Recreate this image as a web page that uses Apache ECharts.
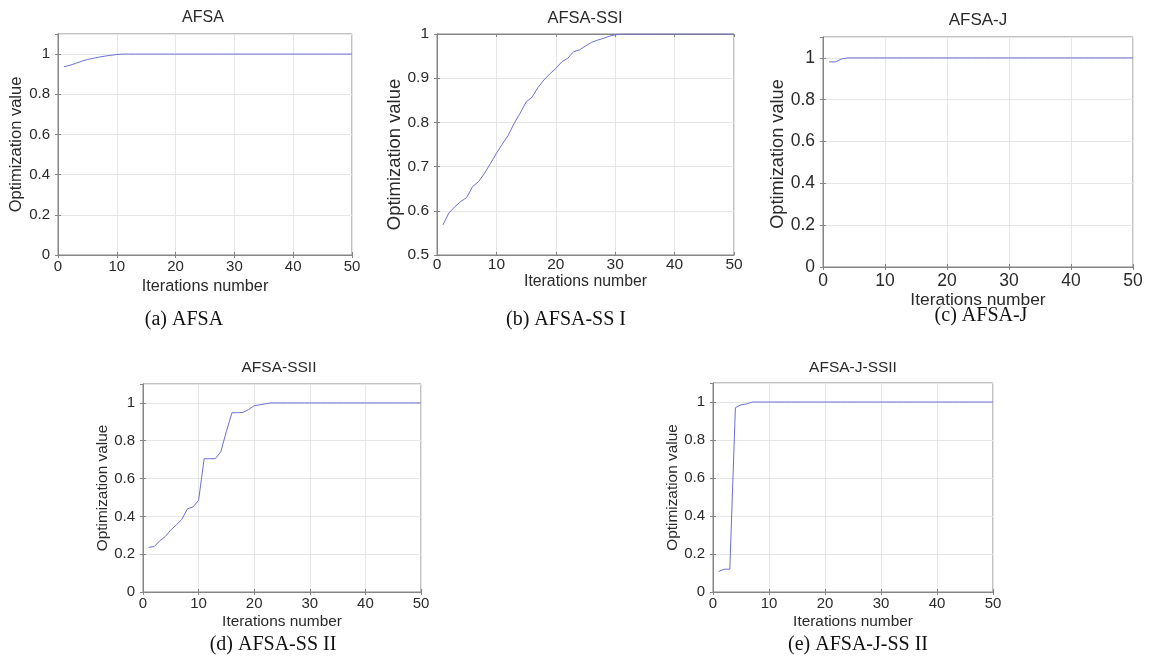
<!DOCTYPE html>
<html>
<head>
<meta charset="utf-8">
<script src="https://cdn.jsdelivr.net/npm/echarts@6/dist/echarts.min.js"></script>
<style>
html,body{margin:0;padding:0;background:#fff;}
#chart{width:1155px;height:660px;}
</style>
</head>
<body>
<div id="chart"></div>
<script>
// ---- data ----
const iterations = [1,2,3,4,5,6,7,8,9,10,11,12,13,14,15,16,17,18,19,20,21,22,23,24,25,26,27,28,29,30,31,32,33,34,35,36,37,38,39,40,41,42,43,44,45,46,47,48,49,50];

const afsa = [0.937,0.944,0.954,0.964,0.973,0.979,0.985,0.990,0.994,0.998,
  1,1,1,1,1,1,1,1,1,1, 1,1,1,1,1,1,1,1,1,1, 1,1,1,1,1,1,1,1,1,1, 1,1,1,1,1,1,1,1,1,1];

const afsaSSI = [0.568,0.595,0.609,0.621,0.630,0.655,0.666,0.685,0.707,0.730,
  0.751,0.771,0.798,0.821,0.846,0.857,0.879,0.896,0.910,0.922,
  0.937,0.945,0.960,0.964,0.973,0.981,0.986,0.990,0.995,0.998,
  1,1,1,1,1,1,1,1,1,1, 1,1,1,1,1,1,1,1,1,1];

const afsaJ = [0.981,0.981,0.995,1,1,1,1,1,1,1,
  1,1,1,1,1,1,1,1,1,1, 1,1,1,1,1,1,1,1,1,1, 1,1,1,1,1,1,1,1,1,1, 1,1,1,1,1,1,1,1,1,1];

const afsaSSII = [0.236,0.240,0.270,0.293,0.328,0.355,0.385,0.440,0.450,0.485,
  0.705,0.705,0.705,0.742,0.850,0.948,0.948,0.950,0.965,0.985,
  0.990,0.995,1,1,1,1,1,1,1,1,
  1,1,1,1,1,1,1,1,1,1, 1,1,1,1,1,1,1,1,1,1];

const afsaJSSII = [0.108,0.120,0.120,0.970,0.985,0.990,1,1,1,1,
  1,1,1,1,1,1,1,1,1,1, 1,1,1,1,1,1,1,1,1,1, 1,1,1,1,1,1,1,1,1,1, 1,1,1,1,1,1,1,1,1,1];

const plotTitles = ['AFSA','AFSA-SSI','AFSA-J','AFSA-SSII','AFSA-J-SSII'];
const captions = ['(a) AFSA','(b) AFSA-SS I','(c) AFSA-J','(d) AFSA-SS II','(e) AFSA-J-SS II'];
const seriesValues = [afsa, afsaSSI, afsaJ, afsaSSII, afsaJSSII];
const xTicks = {min:0, max:50, interval:10};
const yRanges = [[0,1.1,0.2],[0.5,1,0.1],[0,1.1,0.2],[0,1.1,0.2],[0,1.1,0.2]];
const xName = 'Iterations number';
const yName = 'Optimization value';

// ---- layout (positions/styles) ----
const panels = [
  {left:58,  top:34,  width:294, height:221, tick:15,   xn:16.3, yn:16.5, title:16,   titleX:203, titleY:18,  capX:184, capY:320, yGap:33, yPad:[0,0,0,0],  xGap:24, xMargin:4},
  {left:437, top:34,  width:297, height:221, tick:15.5, xn:15.8, yn:18.4, title:16.5, titleX:585, titleY:18,  capX:566, capY:320, yGap:24, yPad:[0,20,0,0], xGap:13, xMargin:2},
  {left:823, top:37,  width:310, height:230, tick:17.5, xn:17.4, yn:18.2, title:17,   titleX:978, titleY:20,  capX:981, capY:316, yGap:28, yPad:[0,4,0,0],  xGap:25, xMargin:5},
  {left:143, top:384, width:278, height:208, tick:15,   xn:15.4, yn:15.4, title:15.5, titleX:279, titleY:368, capX:273, capY:645, yGap:24, yPad:[0,0,0,0],  xGap:22, xMargin:4},
  {left:713, top:383, width:280, height:209, tick:15,   xn:15.4, yn:15.4, title:15.5, titleX:853, titleY:368, capX:858, capY:645, yGap:23, yPad:[0,0,0,0],  xGap:22, xMargin:4}
];

const FONT = '"Liberation Sans", Arial, sans-serif';
const frameColor = '#858585';
const gridColor = '#e6e6e6';
const lineColor = '#6d70d4';
const textColor = '#2a2a2a';

const grids = [], xAxes = [], yAxes = [], series = [], graphics = [];

panels.forEach((p, i) => {
  grids.push({left:p.left, top:p.top, width:p.width, height:p.height, show:true,
    borderColor:frameColor, borderWidth:1, backgroundColor:'#fff', containLabel:false});
  const [ymin, ymax, yint] = yRanges[i];
  xAxes.push({type:'value', gridIndex:i, position:'bottom', min:xTicks.min, max:xTicks.max, interval:xTicks.interval,
    name:xName, nameLocation:'middle', nameGap:p.xGap,
    nameTextStyle:{fontFamily:FONT, fontSize:p.xn, color:textColor},
    axisLine:{show:true, lineStyle:{color:frameColor, width:1}},
    axisTick:{show:true, inside:true, length:3, lineStyle:{color:frameColor}},
    axisLabel:{fontFamily:FONT, fontSize:p.tick, color:textColor, margin:p.xMargin},
    splitLine:{show:true, lineStyle:{color:gridColor, width:1}}
  });
  xAxes.push({type:'value', gridIndex:i, position:'top', min:xTicks.min, max:xTicks.max, interval:xTicks.interval,
    axisLine:{show:true, lineStyle:{color:frameColor, width:1}},
    axisTick:{show:true, inside:true, length:3, lineStyle:{color:frameColor}},
    axisLabel:{show:false}, splitLine:{show:false}
  });
  yAxes.push({type:'value', gridIndex:i, position:'left', min:ymin, max:ymax, interval:yint,
    name:yName, nameLocation:'middle', nameGap:p.yGap, nameRotate:90,
    nameTextStyle:{fontFamily:FONT, fontSize:p.yn, color:textColor, padding:p.yPad},
    axisLine:{show:true, lineStyle:{color:frameColor, width:1}},
    axisTick:{show:true, inside:true, length:3, lineStyle:{color:frameColor}},
    axisLabel:{fontFamily:FONT, fontSize:p.tick, color:textColor, margin:8, showMaxLabel: ymax === 1,
      formatter: v => (Math.round(v*10)/10).toString()},
    splitLine:{show:true, lineStyle:{color:gridColor, width:1}}
  });
  yAxes.push({type:'value', gridIndex:i, position:'right', min:ymin, max:ymax, interval:yint,
    axisLine:{show:true, lineStyle:{color:frameColor, width:1}},
    axisTick:{show:true, inside:true, length:3, lineStyle:{color:frameColor}},
    axisLabel:{show:false}, splitLine:{show:false}
  });
  series.push({type:'line', xAxisIndex:2*i, yAxisIndex:2*i, showSymbol:false, symbol:'none',
    lineStyle:{color:lineColor, width:1}, animation:false, clip:true,
    data: iterations.map((it, k) => [it, seriesValues[i][k]])});
  graphics.push({type:'text', x:p.titleX, y:p.titleY,
    style:{text:plotTitles[i], fontFamily:FONT, fontSize:p.title, fill:textColor, textAlign:'center', textVerticalAlign:'middle'}});
  graphics.push({type:'text', x:p.capX, y:p.capY,
    style:{text:captions[i], fontFamily:'"Liberation Serif", "DejaVu Serif", serif', fontSize:20, fill:'#111', textAlign:'center', textVerticalAlign:'middle'}});
});

const chart = echarts.init(document.getElementById('chart'), null, {renderer:'canvas'});
chart.setOption({
  animation:false,
  backgroundColor:'#fff',
  grid:grids, xAxis:xAxes, yAxis:yAxes, series:series, graphic:graphics
});
</script>
</body>
</html>
